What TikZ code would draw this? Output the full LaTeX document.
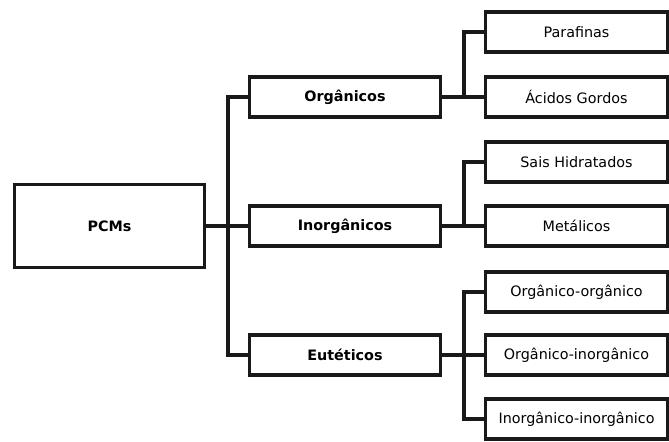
\documentclass[tikz,border=0pt]{standalone}
\usepackage{fontspec}
\setmainfont{DejaVu Sans}
\usepackage{tikz}

\begin{document}
\begin{tikzpicture}[x=0.025cm,y=-0.025cm,
        caixa/.style={draw=black!90, fill=white, line width=2.4pt, inner sep=0pt, font=\fontsize{10.2}{12}\selectfont},
        raiz/.style={caixa, minimum width=4.75cm, minimum height=2.075cm, font=\fontsize{10.2}{12}\selectfont\bfseries},
        grupo/.style={caixa, minimum width=4.775cm, minimum height=1cm, font=\fontsize{10.2}{12}\selectfont\bfseries},
        tipo/.style={caixa, minimum width=4.55cm, minimum height=1cm},
        liga/.style={draw=black!90, line width=2.2pt}]
        \useasboundingbox (0,0) rectangle (669,441);
        \node[raiz] (pcms) at (109.5,226) {PCMs};
        \node[grupo] (org) at (345,97) {Orgânicos};
        \node[grupo] (inorg) at (345,226) {Inorgânicos};
        \node[grupo] (eut) at (345,355) {Eutéticos};
        \node[tipo] (paraf) at (576.5,32) {Parafinas};
        \node[tipo] (acid) at (576.5,97) {Ácidos Gordos};
        \node[tipo] (sais) at (576.5,162) {Sais Hidratados};
        \node[tipo] (metal) at (576.5,226) {Metálicos};
        \node[tipo] (oo) at (576.5,292) {Orgânico-orgânico};
        \node[tipo] (oi) at (576.5,355) {Orgânico-inorgânico};
        \node[tipo] (ii) at (576.5,419) {Inorgânico-inorgânico};
        \coordinate (t1) at (228,226);
        \coordinate (t2) at (464,97);
        \coordinate (t3) at (464,226);
        \coordinate (t4) at (464,355);
        \draw[liga] (pcms.east) -- (inorg.west);
        \draw[liga] (org.west) -| (t1) |- (eut.west);
        \draw[liga] (org.east) -- (acid.west);
        \draw[liga] (paraf.west) -| (t2);
        \draw[liga] (inorg.east) -- (metal.west);
        \draw[liga] (sais.west) -| (t3);
        \draw[liga] (eut.east) -- (oi.west);
        \draw[liga] (oo.west) -| (t4) |- (ii.west);
    \end{tikzpicture}
\end{document}
